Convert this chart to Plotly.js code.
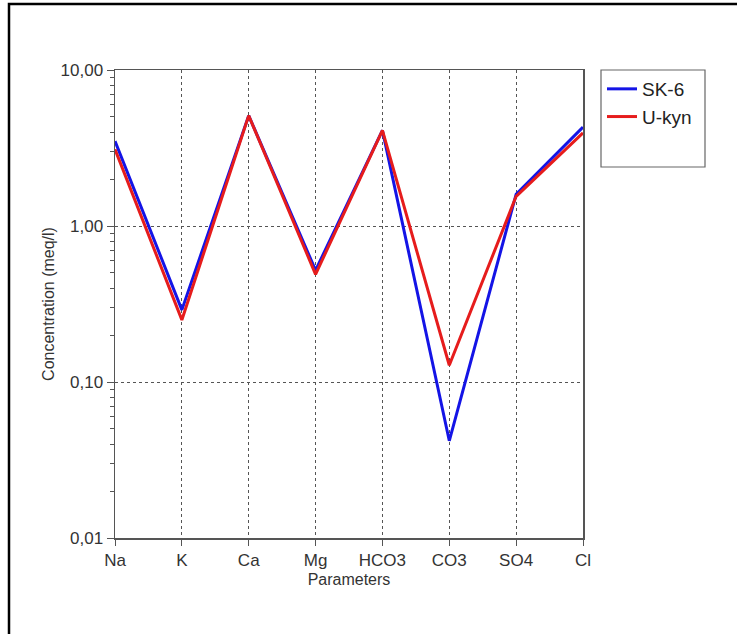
<!DOCTYPE html>
<html>
<head>
<meta charset="utf-8">
<script src="https://cdn.plot.ly/plotly-3.0.1.min.js"></script>
<style>
html,body{margin:0;padding:0;background:#fff;}
#chart{width:737px;height:634px;}
</style>
</head>
<body>
<div id="chart"></div>
<script>
const categories = ['Na', 'K', 'Ca', 'Mg', 'HCO3', 'CO3', 'SO4', 'Cl'];
const sk6 = [3.5, 0.29, 5.1, 0.52, 4.1, 0.042, 1.6, 4.3];
const ukyn = [3.1, 0.25, 5.1, 0.49, 4.1, 0.128, 1.55, 3.95];
const yTickVals = [0.01, 0.1, 1, 10];
const yTickText = ['0,01', '0,10', '1,00', '10,00'];

const axisColor = '#555555';
const font = {family: 'Liberation Sans, Arial, sans-serif', size: 16, color: '#333333'};
const tickFont = {family: font.family, size: 17, color: '#333333'};

const traces = [
  {x: categories, y: sk6, name: 'SK-6', mode: 'lines', type: 'scatter',
   line: {color: '#1414e6', width: 3}, cliponaxis: false},
  {x: categories, y: ukyn, name: 'U-kyn', mode: 'lines', type: 'scatter',
   line: {color: '#e61c1c', width: 3}, cliponaxis: false}
];

const layout = {
  width: 737, height: 634,
  margin: {l: 115, r: 154, t: 70, b: 96},
  paper_bgcolor: '#fff', plot_bgcolor: '#fff',
  font: font,
  showlegend: true,
  legend: {x: (602 - 115) / 468, y: 1.0, xref: 'paper', yref: 'paper', xanchor: 'left', yanchor: 'top',
           borderwidth: 0, bgcolor: 'rgba(0,0,0,0)', font: {family: font.family, size: 19, color: '#222'},
           tracegroupgap: 2, itemwidth: 30},
  xaxis: {
    type: 'category', categoryorder: 'array', categoryarray: categories,
    range: [0, 7], showline: true, linecolor: axisColor, linewidth: 1.5, mirror: true,
    ticks: 'outside', ticklen: 6, tickcolor: axisColor,
    showgrid: true, gridcolor: '#555', griddash: 'dot', gridwidth: 1,
    tickfont: tickFont, zeroline: false,
    title: {text: 'Parameters', font: font, standoff: 5}
  },
  yaxis: {
    type: 'log', range: [-2, 1], showline: true, linecolor: axisColor, linewidth: 1.5, mirror: true,
    tickmode: 'array', tickvals: yTickVals, ticktext: yTickText,
    ticks: 'outside', ticklen: 7, tickcolor: axisColor,
    minor: {ticks: 'outside', ticklen: 4, tickcolor: axisColor, dtick: 'D1', showgrid: false},
    showgrid: true, gridcolor: '#555', griddash: 'dot', gridwidth: 1,
    tickfont: tickFont, zeroline: false,
    title: {text: 'Concentration (meq/l)', font: font, standoff: 2}
  },
  shapes: [
    {type: 'rect', xref: 'paper', yref: 'paper',
     x0: (9 - 115) / 468, x1: (745 - 115) / 468, y0: (538 - 645) / 468, y1: (538 - 4) / 468,
     line: {color: '#000', width: 2.5}, fillcolor: 'rgba(0,0,0,0)', layer: 'below'},
    {type: 'rect', xref: 'paper', yref: 'paper',
     x0: (601 - 115) / 468, x1: (705 - 115) / 468, y0: (538 - 167) / 468, y1: (538 - 70) / 468,
     line: {color: '#666', width: 1.2}, fillcolor: 'rgba(0,0,0,0)'}
  ]
};

Plotly.newPlot('chart', traces, layout, {displayModeBar: false, staticPlot: true});
</script>
</body>
</html>
